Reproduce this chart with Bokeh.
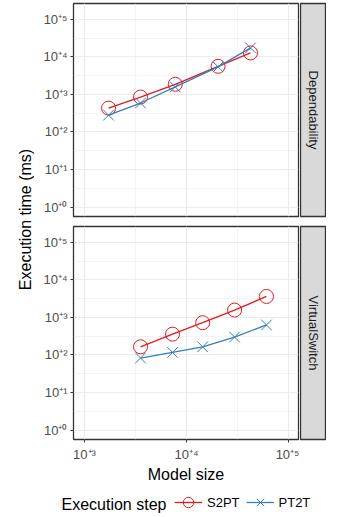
import math
from bokeh.plotting import figure
from bokeh.models import (Range1d, FixedTicker, CustomJSTickFormatter, Label,
                          Legend, LegendItem)
from bokeh.layouts import row, column
from bokeh.embed import file_html
from bokeh.resources import INLINE

# ---------------- data ----------------
facets = ["Dependability", "VirtualSwitch"]
dep_size = [1720, 3540, 7760, 20400, 42400]
dep_s2pt = [430, 850, 1860, 5600, 12700]
dep_pt2t = [280, 590, 1580, 5400, 17300]
vs_size = [3540, 7290, 14400, 29600, 60800]
vs_s2pt = [165, 358, 725, 1570, 3610]
vs_pt2t = [83, 117, 165, 300, 630]
x_breaks = [1e3, 1e4, 1e5]
x_minor = [10 ** 3.5, 10 ** 4.5]
y_breaks = [1e0, 1e1, 1e2, 1e3, 1e4, 1e5]
y_minor = [10 ** 0.5, 10 ** 1.5, 10 ** 2.5, 10 ** 3.5, 10 ** 4.5]
series_names = ["S2PT", "PT2T"]
legend_title = "Execution step"

# ---------------- style ----------------
FONT = "Liberation Sans"
RED = "#E41A1C"
BLUE = "#377EB8"
X_LO, X_HI = 10 ** 2.892, 10 ** 5.098
Y_LO, Y_HI = 10 ** -0.25, 10 ** 5.42
FRAME_W, FRAME_H = 225, 213
YT_W = 34
LEFT_B, RIGHT_B = 39, 1
TOP_H_TOP, TOP_H_BOT = 3, 5
BOT_H_TOP, BOT_H_BOT = 5, 50
LEG_H = 26
STRIP_W = 27

fmt = CustomJSTickFormatter(code="""
const sup = {"0":"\\u2070","1":"\\u00b9","2":"\\u00b2","3":"\\u00b3","4":"\\u2074",
             "5":"\\u2075","6":"\\u2076","7":"\\u2077","8":"\\u2078","9":"\\u2079","-":"\\u207b"};
const e = Math.round(Math.log10(tick));
const s = String(e).split("").map(c => sup[c]).join("");
return "10" + (e >= 0 ? "\\u207a" : "") + s;
""")


def style_axis(ax, standoff):
    ax.axis_line_color = None
    ax.major_tick_line_color = "#333333"
    ax.major_tick_line_width = 1
    ax.major_tick_out = 3
    ax.major_tick_in = 0
    ax.minor_tick_line_color = None
    ax.major_label_text_color = "#4D4D4D"
    ax.major_label_text_font = FONT
    ax.major_label_text_font_size = "13px"
    ax.major_label_standoff = standoff
    ax.formatter = fmt


def draw_series(p, xs, s2, p2):
    l1 = p.line(xs, s2, line_color=RED, line_width=1.3)
    m1 = p.scatter(xs, s2, marker="circle", size=14, fill_color=None,
                   line_color=RED, line_width=1)
    l2 = p.line(xs, p2, line_color=BLUE, line_width=1.3)
    m2 = p.scatter(xs, p2, marker="x", size=15, line_color=BLUE, line_width=1)
    return (l1, m1), (l2, m2)


def panel(xs, s2, p2, bottom):
    mt, mb = (BOT_H_TOP, BOT_H_BOT) if bottom else (TOP_H_TOP, TOP_H_BOT)
    p = figure(width=LEFT_B + FRAME_W + RIGHT_B, height=mt + FRAME_H + mb,
               x_axis_type="log", y_axis_type="log",
               x_range=Range1d(X_LO, X_HI), y_range=Range1d(Y_LO, Y_HI),
               x_axis_location="below" if bottom else None,
               output_backend="svg", toolbar_location=None, title=None,
               min_border_left=LEFT_B, min_border_right=RIGHT_B,
               min_border_top=mt, min_border_bottom=mb)
    p.background_fill_color = "white"
    p.border_fill_color = "white"
    p.outline_line_color = "#333333"
    p.outline_line_width = 1.3
    for g in p.xgrid:
        g.ticker = FixedTicker(ticks=x_breaks, minor_ticks=x_minor)
    for g in p.ygrid:
        g.ticker = FixedTicker(ticks=y_breaks, minor_ticks=y_minor)
    p.grid.grid_line_color = "#EBEBEB"
    p.grid.grid_line_width = 1.1
    p.grid.minor_grid_line_color = "#EBEBEB"
    p.grid.minor_grid_line_width = 0.6
    p.yaxis.ticker = FixedTicker(ticks=y_breaks)
    style_axis(p.yaxis[0], 3)
    if bottom:
        p.xaxis.ticker = FixedTicker(ticks=x_breaks)
        style_axis(p.xaxis[0], 4)
        p.xaxis.axis_label = "Model size"
        p.xaxis.axis_label_text_font = FONT
        p.xaxis.axis_label_text_font_size = "16px"
        p.xaxis.axis_label_text_font_style = "normal"
        p.xaxis.axis_label_text_color = "black"
        p.xaxis.axis_label_standoff = 1
    draw_series(p, xs, s2, p2)
    return p


def strip(text, bottom):
    mt, mb = (BOT_H_TOP, BOT_H_BOT) if bottom else (TOP_H_TOP, TOP_H_BOT)
    s = figure(width=STRIP_W, height=mt + FRAME_H + mb,
               x_range=Range1d(0, 1), y_range=Range1d(0, 1),
               x_axis_location=None, y_axis_location=None,
               output_backend="svg", toolbar_location=None, title=None,
               min_border_left=1, min_border_right=1,
               min_border_top=mt, min_border_bottom=mb)
    s.xgrid.visible = False
    s.ygrid.visible = False
    s.background_fill_color = "#D9D9D9"
    s.border_fill_color = "white"
    s.outline_line_color = "#333333"
    s.outline_line_width = 1.3
    s.add_layout(Label(x=0.5, y=0.5, text=text, angle=-math.pi / 2,
                       text_align="center", text_baseline="middle",
                       text_font=FONT, text_font_size="13px",
                       text_color="#1A1A1A"))
    return s


p_top = panel(dep_size, dep_s2pt, dep_pt2t, bottom=False)
p_bot = panel(vs_size, vs_s2pt, vs_pt2t, bottom=True)
s_top = strip(facets[0], bottom=False)
s_bot = strip(facets[1], bottom=True)

# ---------------- legend strip ----------------
LEG_W = LEFT_B + FRAME_W + RIGHT_B + STRIP_W
lg = figure(width=LEG_W, height=LEG_H, x_range=Range1d(0, LEG_W), y_range=Range1d(0, LEG_H),
            x_axis_location=None, y_axis_location=None, output_backend="svg",
            toolbar_location=None, title=None, min_border=0)
lg.xgrid.visible = False
lg.ygrid.visible = False
lg.outline_line_color = None
# legend keys: same glyph styles; their single point lies outside this strip's ranges
r_s2, r_pt = draw_series(lg, dep_size[:1], dep_s2pt[:1], dep_pt2t[:1])
lg.add_layout(Label(x=27, y=LEG_H / 2 - 2, text=legend_title, text_align="left",
                    text_baseline="middle", text_font=FONT, text_font_size="16px",
                    text_color="black"))
legend = Legend(items=[LegendItem(label=series_names[0], renderers=list(r_s2)),
                       LegendItem(label=series_names[1], renderers=list(r_pt))],
                orientation="horizontal", location=(140, 0),
                label_text_font=FONT, label_text_font_size="13px",
                label_text_color="black", label_standoff=5,
                glyph_width=28, glyph_height=26, label_height=16,
                spacing=6, padding=0, margin=0,
                border_line_color=None, background_fill_alpha=0)
lg.add_layout(legend, "center")

# ---------------- shared y title ----------------
tot_h = (TOP_H_TOP + FRAME_H + TOP_H_BOT) + (BOT_H_TOP + FRAME_H + BOT_H_BOT)
yt = figure(width=YT_W, height=tot_h, x_range=Range1d(0, YT_W), y_range=Range1d(0, tot_h),
            x_axis_location=None, y_axis_location=None, output_backend="svg",
            toolbar_location=None, title=None, min_border=0)
yt.xgrid.visible = False
yt.ygrid.visible = False
yt.outline_line_color = None
yt.add_layout(Label(x=25, y=tot_h - 219, text="Execution time (ms)", angle=math.pi / 2,
                    text_align="center", text_baseline="middle",
                    text_font=FONT, text_font_size="16px", text_color="black"))

layout = row(yt, column(row(p_top, s_top), row(p_bot, s_bot), lg))

open("out.html", "w").write(file_html(layout, INLINE))
